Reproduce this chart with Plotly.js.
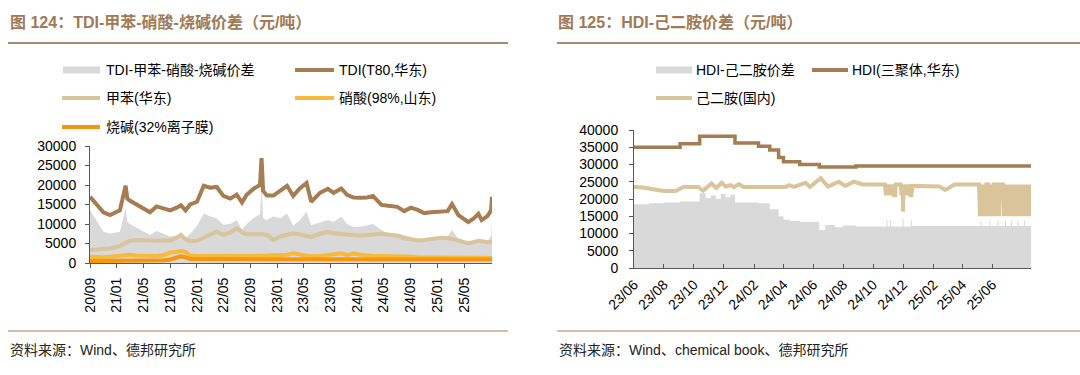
<!DOCTYPE html>
<html>
<head>
<meta charset="utf-8">
<script src="https://cdn.plot.ly/plotly-3.0.1.min.js"></script>
<style>html,body{margin:0;padding:0;background:#fff;}#chart{width:1080px;height:375px;}</style>
</head>
<body>
<div id="chart"></div>
<script>
// ---------------- Left chart data (元/吨) ----------------
const L_dates = ['2020-09-01','2020-10-01','2020-11-01','2020-12-01','2021-01-15','2021-02-10','2021-02-18','2021-03-01','2021-04-01','2021-05-01',
'2021-06-01','2021-07-01','2021-08-01','2021-09-01','2021-10-01','2021-10-20','2021-11-10','2021-12-01','2022-01-01','2022-02-01',
'2022-03-01','2022-04-01','2022-05-01','2022-06-01','2022-07-01','2022-07-25','2022-08-15','2022-09-15','2022-10-15','2022-10-22',
'2022-10-29','2022-11-15','2022-12-15','2023-01-15','2023-02-15','2023-03-15','2023-04-15','2023-05-15','2023-06-05','2023-07-15',
'2023-08-20','2023-09-15','2023-10-20','2023-11-15','2023-12-15','2024-01-15','2024-02-15','2024-03-12','2024-04-20','2024-05-20',
'2024-07-01','2024-08-01','2024-09-01','2024-10-01','2024-11-01','2024-12-01','2025-01-15','2025-02-15','2025-03-07','2025-04-05',
'2025-05-20','2025-06-15','2025-07-05','2025-07-20','2025-08-15','2025-09-01','2025-09-05'];
const L_spread = [13600,11000,8000,7500,8000,14000,10500,10000,9000,8000,
7200,8200,7500,6800,7000,6800,6500,7500,9500,12700,
12000,11500,9800,10000,11000,8500,10000,11500,12500,19600,
11500,11000,12000,11500,12700,9500,11000,13200,9700,10400,
11000,10500,11900,10000,9200,9300,9600,10000,8500,7300,
7600,7200,6800,6300,5800,6000,6200,6800,8500,6000,
4500,5500,6000,5200,5600,7000,11000];
const L_tdi = [17000,15000,13000,12300,13500,19800,16500,16000,15000,14000,
13000,14500,14000,13500,14200,14800,13500,15000,15700,19800,
19300,19500,17200,16500,17500,15500,17500,19000,20000,26900,
18500,17300,17300,18500,19800,17200,19200,20500,15700,18000,
19000,18000,19100,17500,16800,16700,16800,17200,14900,14700,
14400,13300,14200,13600,12800,13000,13100,13300,15100,12300,
10500,11500,12600,11000,12000,13500,17000];
const L_toluene = [3300,3400,3500,3700,4300,5200,5500,5700,5900,5800,
5800,5700,5800,5800,6500,7200,6000,5600,5700,6500,
7000,8000,7200,7800,8900,7900,7400,7500,7400,7500,
7400,7200,5900,6800,7300,7600,7300,7000,6700,7500,
8000,7600,7400,7200,7200,7000,7200,7300,7500,7300,
7000,6300,6000,5800,5900,6100,6500,6400,6200,5800,
5000,5400,5700,5600,5300,5400,5300];
const L_nitric = [1600,1500,1500,1600,1800,2000,2100,2100,1900,1800,
1700,1800,2000,2700,2900,3100,2800,1900,1800,1800,
1900,1900,1800,1800,1700,1700,1700,1800,1800,1800,
1800,1900,2000,2000,2100,2500,2200,1900,1700,1800,
2000,2100,2500,2000,2400,2100,1900,1800,1800,1800,
1700,1600,1600,1500,1500,1500,1400,1400,1400,1300,
1300,1300,1300,1300,1300,1300,1300];
const L_caustic = [500,500,500,550,600,600,600,650,650,650,
650,700,700,900,1300,1700,1400,1000,1000,1000,
1000,1000,1100,1100,1100,1000,1000,1100,1100,1100,
1100,1000,1000,1000,1000,1000,1000,1000,900,900,
900,900,1000,1000,1000,1000,1000,900,900,900,
900,900,900,900,900,900,900,900,900,900,
900,900,900,900,900,900,900];
const L_names = ['TDI-甲苯-硝酸-烧碱价差','TDI(T80,华东)','甲苯(华东)','硝酸(98%,山东)','烧碱(32%离子膜)'];
const L_tickvals = ['2020-09-01','2021-01-01','2021-05-01','2021-09-01','2022-01-01','2022-05-01','2022-09-01','2023-01-01',
'2023-05-01','2023-09-01','2024-01-01','2024-05-01','2024-09-01','2025-01-01','2025-05-01'];
const L_ticktext = ['20/09','21/01','21/05','21/09','22/01','22/05','22/09','23/01','23/05','23/09','24/01','24/05','24/09','25/01','25/05'];

// ---------------- Right chart data (元/吨) ----------------
const R_hdi_dates = ['2023-06-01','2023-09-03','2023-10-13','2023-12-24','2024-02-10','2024-03-04','2024-03-22','2024-04-01','2024-05-04','2024-06-13','2024-08-27','2025-08-19'];
const R_hdi = [35000,36000,38200,36200,35300,34200,32000,30800,30000,29300,29600,29600];

const R_spread_dates = ['2023-06-01','2023-07-01','2023-08-01','2023-09-03','2023-10-13','2023-10-25','2023-11-05','2023-11-15','2023-11-25','2023-12-05',
'2023-12-15','2023-12-24','2024-02-10','2024-03-04','2024-03-22','2024-04-01','2024-04-15','2024-05-04','2024-06-13','2024-06-25',
'2024-07-15','2024-08-01','2024-08-27','2024-10-28','2024-10-30','2024-11-04','2024-11-06','2024-11-30','2024-12-02','2024-12-17',
'2024-12-19','2025-05-08','2025-05-10','2025-05-26','2025-05-28','2025-06-12','2025-06-14','2025-06-27','2025-06-29','2025-07-09',
'2025-07-11','2025-07-22','2025-07-24','2025-08-05','2025-08-07','2025-08-19'];
const R_spread = [18500,18800,19000,19300,21700,20300,21000,20000,21500,20500,
21200,19000,18800,17000,15000,14000,13600,13400,11000,12500,
11800,12300,12000,14000,12000,14000,12000,14200,12000,13800,
12200,13800,12200,13800,12200,13800,12200,13800,12200,13800,
12200,13800,12200,13800,12200,12200];

const R_ada_dates = ['2023-06-01','2023-06-20','2023-07-10','2023-08-01','2023-08-25','2023-09-10','2023-10-10','2023-10-20','2023-11-06','2023-11-16',
'2023-11-27','2023-12-05','2023-12-15','2023-12-22','2024-01-01','2024-01-10','2024-04-05','2024-04-13','2024-04-22','2024-05-16',
'2024-05-25','2024-06-06','2024-06-16','2024-07-01','2024-07-23','2024-08-05','2024-08-23','2024-09-10','2024-10-25',
'2024-10-27','2024-10-29','2024-10-31','2024-11-02','2024-11-04','2024-11-06','2024-11-08','2024-11-10','2024-11-12','2024-11-15',
'2024-11-16','2024-11-26','2024-11-28','2024-11-30','2024-12-01','2024-12-02','2024-12-04','2024-12-06','2024-12-08','2024-12-10',
'2024-12-12','2024-12-14','2024-12-16','2024-12-18','2024-12-20','2025-02-13','2025-02-25','2025-03-16','2025-05-05',
'2025-05-07','2025-05-09','2025-05-11','2025-05-13','2025-05-15','2025-05-17','2025-05-19','2025-05-20','2025-05-24',
'2025-05-26','2025-05-28','2025-05-30','2025-06-01','2025-06-03','2025-06-04','2025-06-09',
'2025-06-11','2025-06-13','2025-06-15','2025-06-16','2025-06-23',
'2025-06-25','2025-06-27','2025-06-29','2025-07-01','2025-07-03','2025-07-04','2025-07-05',
'2025-07-07','2025-07-09','2025-07-11','2025-07-13','2025-07-15','2025-07-17','2025-07-19','2025-07-21','2025-07-23','2025-07-25',
'2025-07-27','2025-07-29','2025-07-31','2025-08-02','2025-08-04','2025-08-06','2025-08-08','2025-08-10','2025-08-12','2025-08-14',
'2025-08-16','2025-08-19'];
const R_ada = [23500,23300,22800,22300,22300,23500,23500,22400,24500,23200,
24700,23600,24000,23400,24300,23500,23500,24000,23500,24700,
23500,25000,26000,23600,25000,23800,25000,24200,24200,
21100,24200,21100,24200,21100,24200,21100,24200,21100,21100,
24200,24200,21100,24200,16300,24200,21100,24200,21100,24200,
21100,24200,21100,21100,23800,23600,22600,24200,24200,
15000,24200,15000,24200,15000,24200,15000,24200,24200,
15000,24200,15000,24200,15000,24200,24200,
15000,24200,15000,24200,24200,
15000,24200,15000,24200,15000,24200,24200,
15000,24200,15000,24200,15000,24200,15000,24200,15000,24200,
15000,24200,15000,24200,15000,24200,15000,24200,15000,24200,
15000,24200];
const R_names = ['HDI-己二胺价差','HDI(三聚体,华东)','己二胺(国内)'];
const R_tickvals = ['2023-06-01','2023-08-01','2023-10-01','2023-12-01','2024-02-01','2024-04-01','2024-06-01','2024-08-01',
'2024-10-01','2024-12-01','2025-02-01','2025-04-01','2025-06-01'];
const R_ticktext = ['23/06','23/08','23/10','23/12','24/02','24/04','24/06','24/08','24/10','24/12','25/02','25/04','25/06'];

// ---------------- colours ----------------
const C_gray = '#D9D9D9', C_brown = '#A67C52', C_tan = '#D9C49B', C_yellow = '#F8BA38', C_orange = '#F7960C';
const FONT = 'Liberation Sans, Arial, Noto Sans CJK SC, sans-serif';

const W = 1080, H = 375;
const PX = x => x / W, PY = y => 1 - y / H;

const traces = [
  {x: L_dates, y: L_spread, name: L_names[0], type: 'scatter', mode: 'lines', fill: 'tozeroy', fillcolor: C_gray, line: {width: 0, color: C_gray}, xaxis: 'x', yaxis: 'y'},
  {x: L_dates, y: L_tdi, name: L_names[1], type: 'scatter', mode: 'lines', line: {width: 4, color: C_brown}, xaxis: 'x', yaxis: 'y'},
  {x: L_dates, y: L_toluene, name: L_names[2], type: 'scatter', mode: 'lines', line: {width: 4, color: C_tan}, xaxis: 'x', yaxis: 'y'},
  {x: L_dates, y: L_nitric, name: L_names[3], type: 'scatter', mode: 'lines', line: {width: 4, color: C_yellow}, xaxis: 'x', yaxis: 'y'},
  {x: L_dates, y: L_caustic, name: L_names[4], type: 'scatter', mode: 'lines', line: {width: 4, color: C_orange}, xaxis: 'x', yaxis: 'y'},
  {x: R_spread_dates, y: R_spread, name: R_names[0], type: 'scatter', mode: 'lines', fill: 'tozeroy', fillcolor: C_gray, line: {width: 0, color: C_gray, shape: 'hv'}, xaxis: 'x2', yaxis: 'y2'},
  {x: R_hdi_dates, y: R_hdi, name: R_names[1], type: 'scatter', mode: 'lines', line: {width: 3.5, color: C_brown, shape: 'hv'}, xaxis: 'x2', yaxis: 'y2'},
  {x: R_ada_dates, y: R_ada, name: R_names[2], type: 'scatter', mode: 'lines', line: {width: 4, color: C_tan}, xaxis: 'x2', yaxis: 'y2'}
];

const axisCommon = {showgrid: false, zeroline: false, showline: true, linecolor: '#595959', linewidth: 1,
  tickcolor: '#595959', ticklen: 4, tickfont: {family: FONT, size: 14, color: '#000'}};

const layout = {
  width: W, height: H, margin: {l: 0, r: 0, t: 0, b: 0},
  paper_bgcolor: '#fff', plot_bgcolor: 'rgba(0,0,0,0)', showlegend: false,
  xaxis: Object.assign({}, axisCommon, {domain: [PX(90), PX(492)], anchor: 'y', type: 'date',
    range: ['2020-09-01', '2025-09-05'], tickmode: 'array', tickvals: L_tickvals, ticktext: L_ticktext,
    tickangle: -90, ticks: 'outside', ticklabelstandoff: 4}),
  yaxis: Object.assign({}, axisCommon, {domain: [PY(263), PY(146)], anchor: 'x', range: [0, 30000],
    dtick: 5000, tickformat: 'd', ticks: 'outside', ticklabelstandoff: 6}),
  xaxis2: Object.assign({}, axisCommon, {domain: [PX(634), PX(1031)], anchor: 'y2', type: 'date',
    range: ['2023-06-01', '2025-08-19'], tickmode: 'array', tickvals: R_tickvals, ticktext: R_ticktext,
    tickangle: -45, ticks: 'inside', ticklabelstandoff: 2}),
  yaxis2: Object.assign({}, axisCommon, {domain: [PY(268), PY(130)], anchor: 'x2', range: [0, 40000],
    dtick: 5000, tickformat: 'd', ticks: 'outside', ticklabelstandoff: 8}),
  shapes: [], annotations: []
};

// Titles, rules and sources
function rule(x0, x1, y, color, w) {
  layout.shapes.push({type: 'line', xref: 'paper', yref: 'paper', x0: PX(x0), x1: PX(x1), y0: PY(y), y1: PY(y), line: {color: color, width: w}});
}
function text(str, x, y, size, color, anchor) {
  layout.annotations.push({text: str, xref: 'paper', yref: 'paper', x: PX(x), y: PY(y), xanchor: anchor || 'left', yanchor: 'middle',
    showarrow: false, font: {family: FONT, size: size, color: color}});
}
text('<b>图 124：TDI-甲苯-硝酸-烧碱价差（元/吨）</b>', 8, 22, 16, '#A07A56');
text('<b>图 125：HDI-己二胺价差（元/吨）</b>', 556, 22, 16, '#A07A56');
rule(8, 508, 43, '#A88A6C', 2);
rule(557, 1080, 43, '#A88A6C', 2);
rule(8, 508, 331, '#C4A88C', 1.5);
rule(557, 1080, 331, '#C4A88C', 1.5);
text('资料来源：Wind、德邦研究所', 8, 350, 14, '#222');
text('资料来源：Wind、chemical book、德邦研究所', 557, 350, 14, '#222');

// Legends (drawn manually)
function legBox(x0, x1, y, color) {
  layout.shapes.push({type: 'rect', xref: 'paper', yref: 'paper', x0: PX(x0), x1: PX(x1), y0: PY(y + 3.5), y1: PY(y - 3.5), fillcolor: color, line: {width: 0}});
}
function legLine(x0, x1, y, color, w) {
  layout.shapes.push({type: 'line', xref: 'paper', yref: 'paper', x0: PX(x0), x1: PX(x1), y0: PY(y), y1: PY(y), line: {color: color, width: w}});
}
legBox(63, 100, 70, C_gray);           text(L_names[0], 104, 70, 14, '#000');
legLine(295, 334, 70, C_brown, 4);     text(L_names[1], 337, 70, 14, '#000');
legLine(62, 100, 98, C_tan, 4);        text(L_names[2], 104, 98, 14, '#000');
legLine(295, 334, 98, C_yellow, 4);    text(L_names[3], 337, 98, 14, '#000');
legLine(62, 100, 127, C_orange, 4);    text(L_names[4], 104, 127, 14, '#000');

legBox(656, 692, 70, C_gray);          text(R_names[0], 694, 70, 14, '#000');
legLine(812, 848, 70, C_brown, 4);     text(R_names[1], 850, 70, 14, '#000');
legLine(656, 692, 98, C_tan, 4);       text(R_names[2], 694, 98, 14, '#000');

Plotly.newPlot('chart', traces, layout, {staticPlot: true, displayModeBar: false});
</script>
</body>
</html>
